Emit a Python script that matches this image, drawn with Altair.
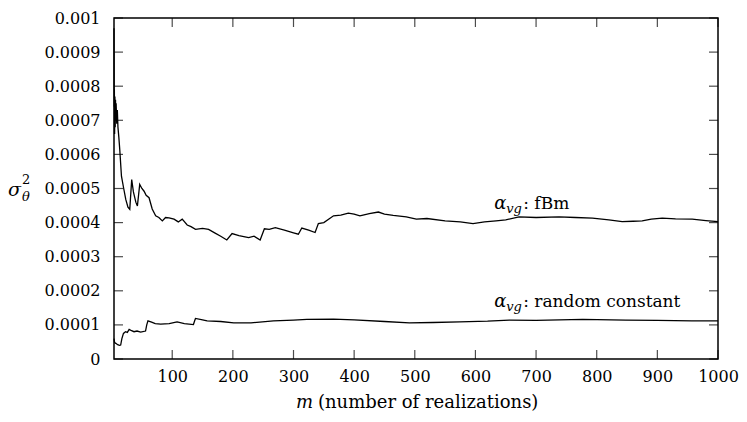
import altair as alt
import pandas as pd

FONT = "DejaVu Serif"

# fBm series (m, sigma^2)
fbm_m = [4, 4.3, 4.6, 5, 5.5, 6, 6.5, 7, 7.5, 8.5, 9.5, 10.5, 12, 13.5, 16.3, 20, 23.4, 27, 30,
         33.2, 36, 40, 42.6, 46.4, 50, 53.6, 57, 61.8, 67, 72.7, 78, 83.7, 89, 94.7, 103, 110,
         116.5, 124.7, 131, 138.4, 150, 160, 170, 180, 190, 198.7, 210, 226, 235, 245, 252,
         260, 270, 285, 300, 308, 313.7, 325, 335.6, 341, 350, 366, 378, 390.4, 400, 409.5,
         425, 440, 450, 464.4, 486, 502.6, 520, 550, 575, 596, 615, 634, 650, 672, 700, 738,
         765, 793, 820, 842, 860, 875, 890, 908, 930, 957.5, 980, 1000]
fbm_v = [0.00097, 0.00074, 0.00079, 0.00066, 0.00077, 0.00068, 0.00076, 0.00070, 0.00075,
         0.00069, 0.00073, 0.00068, 0.00065, 0.000614, 0.000536, 0.00050, 0.000468, 0.000445,
         0.000439, 0.000526, 0.00049, 0.00046, 0.000449, 0.000512, 0.00050, 0.000492, 0.00048,
         0.000473, 0.00044, 0.00042, 0.000415, 0.000405, 0.000415, 0.000414, 0.00041, 0.000402,
         0.00041, 0.000393, 0.000388, 0.00038, 0.000383, 0.00038, 0.00037, 0.00036, 0.000349,
         0.000368, 0.000362, 0.000356, 0.00036, 0.000349, 0.000382, 0.00038, 0.000385,
         0.000378, 0.00037, 0.000366, 0.000384, 0.000378, 0.000371, 0.000397, 0.00040,
         0.00042, 0.000422, 0.000428, 0.000425, 0.00042, 0.000426, 0.000431, 0.000425,
         0.000421, 0.000417, 0.00041, 0.000412, 0.000405, 0.000402, 0.000397, 0.000402,
         0.000405, 0.000408, 0.000417, 0.000415, 0.000417, 0.000415, 0.000413, 0.000408,
         0.000403, 0.000404, 0.000405, 0.00041, 0.000413, 0.000411, 0.00041, 0.000406, 0.000403]

# random-constant series (m, sigma^2)
rc_m = [4, 5, 7, 10, 13, 15, 17, 19.6, 23, 26, 29, 33, 37, 42, 48, 56, 58, 60, 66, 72, 81, 95,
        108, 120, 135, 137, 138.4, 150, 157.6, 180, 201.5, 230, 267, 300, 322, 366, 400, 450,
        491, 530, 574, 620, 656, 700, 777, 848, 900, 957, 1000]
rc_v = [0.00006, 0.000048, 0.000046, 0.000042, 0.00004, 0.000041, 0.00006, 0.000075, 0.00008,
        0.000078, 0.000087, 0.000083, 0.00008, 0.000082, 0.000079, 0.000082, 0.0001, 0.000112,
        0.000108, 0.000104, 0.000102, 0.000104, 0.000109, 0.000104, 0.000101, 0.000112,
        0.000119, 0.000115, 0.000112, 0.00011, 0.000106, 0.000106, 0.000112, 0.000114,
        0.000116, 0.000117, 0.000115, 0.00011, 0.000106, 0.000107, 0.000109, 0.000111,
        0.000114, 0.000113, 0.000116, 0.000114, 0.000113, 0.000112, 0.000112]

x_ticks = [100, 200, 300, 400, 500, 600, 700, 800, 900, 1000]
y_ticks = [0, 0.0001, 0.0002, 0.0003, 0.0004, 0.0005, 0.0006, 0.0007, 0.0008, 0.0009, 0.001]

label_names = [": fBm", ": random constant"]
label_m = [631, 631]
label_v = [0.00044, 0.0001515]

W, H = 604, 341

df = pd.concat([
    pd.DataFrame({"m": fbm_m, "v": fbm_v, "series": "fBm"}),
    pd.DataFrame({"m": rc_m, "v": rc_v, "series": "random constant"}),
])
xt = pd.DataFrame({"m": x_ticks})
yt = pd.DataFrame({"v": y_ticks})
lab = pd.DataFrame({"name": label_names, "m": label_m, "v": label_v})
one = pd.DataFrame({"a": [0]})

xs = alt.Scale(domain=[4, 1000], nice=False, zero=False)
ys = alt.Scale(domain=[0, 0.001], nice=False, zero=False)

x_axis = alt.Axis(values=x_ticks, title=None, domain=False, ticks=False, grid=False,
                  labelFont=FONT, labelFontSize=16, labelColor="black", labelPadding=9,
                  labelFlush=False, labelOverlap=False, format="d")
y_axis = alt.Axis(values=y_ticks, title=None, domain=False, ticks=False, grid=False,
                  labelFont=FONT, labelFontSize=16, labelColor="black", labelPadding=14,
                  labelFlush=False, labelOverlap=False, format="~g")

X = alt.X("m:Q", scale=xs, axis=x_axis)
Y = alt.Y("v:Q", scale=ys, axis=y_axis)

lines = alt.Chart(df).mark_line(color="black", strokeWidth=1.3).encode(
    x=X, y=Y, detail="series:N")

tick_kw = dict(color="black", thickness=1.2, size=9)
bottom_ticks = alt.Chart(xt).mark_tick(orient="vertical", **tick_kw).encode(
    x=X, y=alt.value(H - 4.5))
top_ticks = alt.Chart(xt).mark_tick(orient="vertical", **tick_kw).encode(
    x=X, y=alt.value(4.5))
left_ticks = alt.Chart(yt).mark_tick(orient="horizontal", **tick_kw).encode(
    y=Y, x=alt.value(4.5))
right_ticks = alt.Chart(yt).mark_tick(orient="horizontal", **tick_kw).encode(
    y=Y, x=alt.value(W - 4.5))

# in-plot labels: alpha_vg: ...
alpha = alt.Chart(lab).mark_text(text="α", font=FONT, fontStyle="italic", fontSize=18,
                                 align="left", baseline="alphabetic", color="black").encode(
    x=X, y=Y)
sub_vg = alt.Chart(lab).mark_text(text="vg", font=FONT, fontStyle="italic", fontSize=13,
                                  align="left", baseline="alphabetic", color="black",
                                  dx=12, dy=4).encode(x=X, y=Y)
rest = alt.Chart(lab).mark_text(font=FONT, fontSize=17, align="left", baseline="alphabetic",
                                color="black", dx=29).encode(x=X, y=Y, text="name:N")

# y-axis title sigma_theta^2
sig = alt.Chart(one).mark_text(text="σ", font=FONT, fontStyle="italic", fontSize=19,
                               align="left", baseline="alphabetic", color="black").encode(
    x=alt.value(-106), y=alt.value(178))
sup2 = alt.Chart(one).mark_text(text="2", font=FONT, fontSize=13,
                                align="left", baseline="alphabetic", color="black").encode(
    x=alt.value(-92), y=alt.value(166))
subth = alt.Chart(one).mark_text(text="θ", font=FONT, fontStyle="italic", fontSize=13,
                                 align="left", baseline="alphabetic", color="black").encode(
    x=alt.value(-92), y=alt.value(183))

# x-axis title
xm = alt.Chart(one).mark_text(text="m", font=FONT, fontStyle="italic", fontSize=18,
                              align="left", baseline="alphabetic", color="black").encode(
    x=alt.value(182), y=alt.value(H + 49))
xrest = alt.Chart(one).mark_text(text="(number of realizations)", font=FONT, fontSize=18,
                                 align="left", baseline="alphabetic", color="black").encode(
    x=alt.value(204), y=alt.value(H + 49))

chart = alt.layer(
    lines, bottom_ticks, top_ticks, left_ticks, right_ticks,
    alpha, sub_vg, rest, sig, sup2, subth, xm, xrest,
).properties(
    width=W, height=H,
    background="white",
    autosize=alt.AutoSizeParams(type="none"),
    padding={"left": 106, "top": 10, "right": 21, "bottom": 55},
).configure_view(
    stroke="black", strokeWidth=1.5
)

chart.save("out.html", embed_options={"renderer": "svg", "actions": False})
